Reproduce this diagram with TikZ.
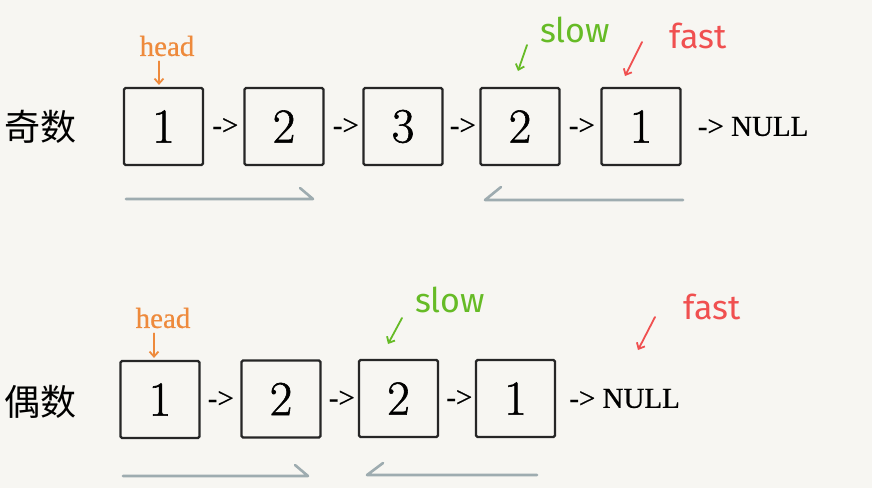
\documentclass[tikz,border=0pt]{standalone}
\usepackage{fontspec}
\setmainfont{Liberation Serif}
\newfontfamily\cjk{Noto Sans CJK SC}
\newfontfamily\hand{Fira Sans}
\newfontfamily\numfont[FakeBold=1.2]{Latin Modern Roman}
\newfontfamily\linkfont[FakeBold=0.6]{Liberation Serif}
\usetikzlibrary{arrows.meta, positioning}
\definecolor{paper}{RGB}{247,246,242}
\definecolor{headorange}{RGB}{238,138,60}
\definecolor{slowgreen}{RGB}{102,187,38}
\definecolor{fastred}{RGB}{240,80,80}
\definecolor{trackgray}{RGB}{158,172,176}

\begin{document}
\begin{tikzpicture}[
        x=1pt, y=-1pt,
        cell/.style={draw=black!85, line width=2.2pt, rounded corners=1.5pt, minimum width=79pt, minimum height=77pt, inner sep=0pt, font=\numfont\fontsize{49}{49}\selectfont},
        link/.style={inner sep=0pt, font=\linkfont\fontsize{29}{29}\selectfont},
        rowname/.style={inner sep=0pt, font=\cjk\fontsize{36}{36}\selectfont},
        headtag/.style={inner sep=0pt, text=headorange, font=\linkfont\fontsize{29}{29}\selectfont},
        slowtag/.style={inner sep=0pt, text=slowgreen, font=\hand\fontsize{34}{34}\selectfont},
        fasttag/.style={inner sep=0pt, text=fastred, font=\hand\fontsize{34}{34}\selectfont},
        pointer/.style={line width=1.8pt, line cap=round, -{Straight Barb[length=5pt, width=9pt]}},
        track/.style={draw=trackgray, line width=2.6pt, line cap=round, line join=round}
    ]
        % paper
        \fill[paper] (0,0) rectangle (872,488);

        % Odd list
        \node[rowname] (oddName) at (41,127) {奇数};
        \node[cell] (odd1) at (163.5,126.5) {1};
        \node[cell] (odd2) at (284,126.5) {2};
        \node[cell] (odd3) at (403,126.5) {3};
        \node[cell] (odd4) at (520,126.5) {2};
        \node[cell] (odd5) at (641,126.5) {1};
        \node[link, right=8pt of odd1] (oddLink1) {->};
        \node[link, right=8pt of odd2] (oddLink2) {->};
        \node[link, right=6pt of odd3] (oddLink3) {->};
        \node[link, right=8pt of odd4] (oddLink4) {->};
        \node[link, right=16pt of odd5] (oddNull) {-> NULL};

        % Odd pointers
        \node[headtag] (oddHead) at (167,46) {head};
        \draw[pointer, headorange, shorten <=5pt, shorten >=2pt] ([xshift=-8pt]oddHead.south) -- ([xshift=-4.5pt]odd1.north);
        \node[slowtag] (oddSlow) at (575,30) {slow};
        \coordinate (oddSlowFrom) at (527,45);
        \coordinate (oddSlowTo) at (518,71);
        \draw[pointer, slowgreen] (oddSlowFrom) -- (oddSlowTo);
        \node[fasttag] (oddFast) at (698,36) {fast};
        \coordinate (oddFastFrom) at (642,42);
        \coordinate (oddFastTo) at (625,76);
        \draw[pointer, fastred] (oddFastFrom) -- (oddFastTo);

        % Odd tracks
        \coordinate (oddGoL) at (126,199);
        \coordinate (oddGoR) at (313,199);
        \draw[track] (oddGoL) -- (oddGoR) -- ++(-13,-11);
        \coordinate (oddBackR) at (683,200);
        \coordinate (oddBackL) at (485,200);
        \draw[track] (oddBackR) -- (oddBackL) -- ++(16,-13);

        % Even list
        \node[rowname] (evenName) at (41,402) {偶数};
        \node[cell] (even1) at (160,399.5) {1};
        \node[cell] (even2) at (281,399) {2};
        \node[cell] (even3) at (398.5,398.5) {2};
        \node[cell] (even4) at (515.5,398.5) {1};
        \node[link, right=7pt of even1] (evenLink1) {->};
        \node[link, right=7pt of even2] (evenLink2) {->};
        \node[link, right=7pt of even3] (evenLink3) {->};
        \node[link, right=13pt of even4] (evenNull) {-> NULL};

        % Even pointers
        \node[headtag] (evenHead) at (163,318) {head};
        \draw[pointer, headorange, shorten <=5pt, shorten >=2pt] ([xshift=-9pt]evenHead.south) -- ([xshift=-6pt]even1.north);
        \node[slowtag] (evenSlow) at (450,300) {slow};
        \coordinate (evenSlowFrom) at (402,318);
        \coordinate (evenSlowTo) at (388,344);
        \draw[pointer, slowgreen] (evenSlowFrom) -- (evenSlowTo);
        \node[fasttag] (evenFast) at (712,307) {fast};
        \coordinate (evenFastFrom) at (655,317);
        \coordinate (evenFastTo) at (638,350);
        \draw[pointer, fastred] (evenFastFrom) -- (evenFastTo);

        % Even tracks
        \coordinate (evenGoL) at (123,476);
        \coordinate (evenGoR) at (308,476);
        \draw[track] (evenGoL) -- (evenGoR) -- ++(-13,-11);
        \coordinate (evenBackR) at (537,475);
        \coordinate (evenBackL) at (367,475);
        \draw[track] (evenBackR) -- (evenBackL) -- ++(16,-12);

    \end{tikzpicture}
\end{document}
